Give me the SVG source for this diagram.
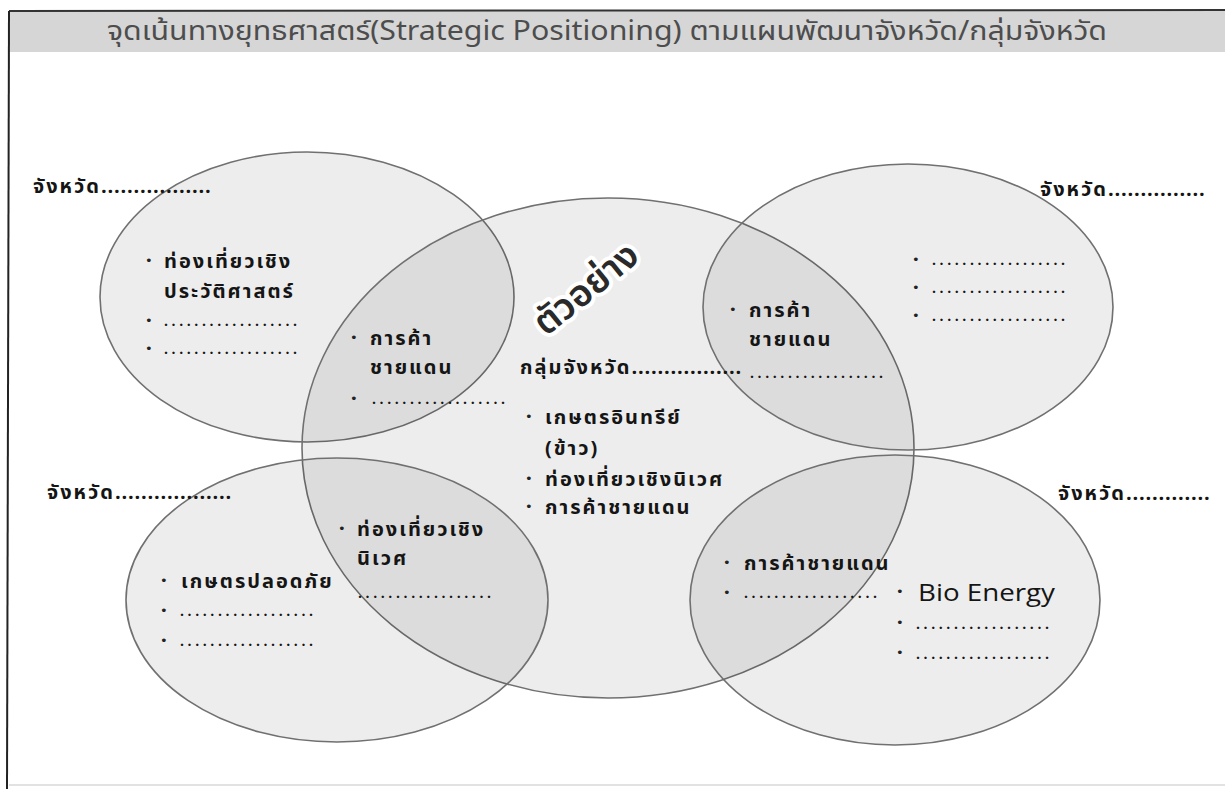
<svg xmlns="http://www.w3.org/2000/svg" width="1225" height="789" viewBox="0 0 1225 789">
<style>
.e{fill:#000;fill-opacity:.072;stroke:#707070;stroke-width:1.6}
.t{font-family:"Noto Sans Thai","Tahoma","DejaVu Sans",sans-serif;font-size:20px;fill:#151515;font-weight:700;letter-spacing:2px}
.b{font-family:"DejaVu Sans",sans-serif;font-size:13px;fill:#222}
.d{font-family:"Noto Sans Thai","DejaVu Sans",sans-serif;font-size:14px;font-weight:700;fill:#151515;letter-spacing:3.6px}
.ld{letter-spacing:0.8px}
.lat{font-family:"Open Sans","Noto Sans",sans-serif;font-size:24px;fill:#151515}
</style>
<g id="frame">
<rect x="9" y="11" width="1216" height="41" fill="#d6d6d6"/>
<line x1="9" y1="11" x2="1225" y2="10" stroke="#333" stroke-width="2"/>
<line x1="9" y1="11" x2="7" y2="789" stroke="#222" stroke-width="2"/>
<line x1="9" y1="785" x2="1225" y2="785" stroke="#e2e2e2" stroke-width="2"/>
<text x="107" y="40" textLength="1000" lengthAdjust="spacingAndGlyphs" font-family="Noto Sans Thai, Tahoma, DejaVu Sans, sans-serif" font-size="27" fill="#4d4d4d">จุดเน้นทางยุทธศาสตร์(Strategic Positioning) ตามแผนพัฒนาจังหวัด/กลุ่มจังหวัด</text>
</g>
<g id="shapes">
<ellipse id="e-tl" class="e" cx="307" cy="297" rx="207" ry="145"/>
<ellipse id="e-c" class="e" cx="608" cy="448" rx="306" ry="250"/>
<ellipse id="e-tr" class="e" cx="908" cy="307" rx="205" ry="143"/>
<ellipse id="e-bl" class="e" cx="337" cy="600" rx="211" ry="142"/>
<ellipse id="e-br" class="e" cx="895" cy="600" rx="205" ry="145"/>
</g>
<g id="node-tl">
<text class="t" x="33" y="193">จังหวัด<tspan class="ld">.................</tspan></text>
<text class="b" x="145" y="265">•</text><text class="t" x="164" y="268">ท่องเที่ยวเชิง</text>
<text class="t" x="164" y="298">ประวัติศาสตร์</text>
<text class="b" x="145" y="325">•</text><text class="d" x="164" y="326">..................</text>
<text class="b" x="145" y="353">•</text><text class="d" x="164" y="354">..................</text>
</g>
<g id="node-tl-c">
<text class="b" x="350" y="342">•</text><text class="t" x="370" y="345">การค้า</text>
<text class="t" x="370" y="374">ชายแดน</text>
<text class="b" x="350" y="403">•</text><text class="d" x="372" y="404">..................</text>
</g>
<g id="node-c">
<text transform="translate(546,337) rotate(-39)" font-family="Noto Sans Thai, Tahoma, DejaVu Sans, sans-serif" font-size="37" font-weight="600" fill="#2a2a2a" stroke="#fff" stroke-width="8" stroke-linejoin="round" paint-order="stroke">ตัวอย่าง</text>
<text class="t" x="520" y="374">กลุ่มจังหวัด<tspan class="ld">.................</tspan></text>
<text class="b" x="525" y="421">•</text><text class="t" x="545" y="424">เกษตรอินทรีย์</text>
<text class="t" x="545" y="455">(ข้าว)</text>
<text class="b" x="525" y="483">•</text><text class="t" x="545" y="486">ท่องเที่ยวเชิงนิเวศ</text>
<text class="b" x="525" y="511">•</text><text class="t" x="545" y="514">การค้าชายแดน</text>
</g>
<g id="node-tr-c">
<text class="b" x="729" y="314">•</text><text class="t" x="749" y="317">การค้า</text>
<text class="t" x="749" y="346">ชายแดน</text>
<text class="d" x="750" y="378">..................</text>
</g>
<g id="node-tr">
<text class="t" x="1040" y="196">จังหวัด<tspan class="ld">...............</tspan></text>
<text class="b" x="912" y="264">•</text><text class="d" x="932" y="265">..................</text>
<text class="b" x="912" y="292">•</text><text class="d" x="932" y="293">..................</text>
<text class="b" x="912" y="320">•</text><text class="d" x="932" y="321">..................</text>
</g>
<g id="node-bl">
<text class="t" x="47" y="499">จังหวัด<tspan class="ld">..................</tspan></text>
<text class="b" x="160" y="585">•</text><text class="t" x="181" y="588">เกษตรปลอดภัย</text>
<text class="b" x="160" y="615">•</text><text class="d" x="180" y="616">..................</text>
<text class="b" x="160" y="645">•</text><text class="d" x="180" y="646">..................</text>
</g>
<g id="node-bl-c">
<text class="b" x="338" y="533">•</text><text class="t" x="357" y="536">ท่องเที่ยวเชิง</text>
<text class="t" x="357" y="565">นิเวศ</text>
<text class="d" x="358" y="598">..................</text>
</g>
<g id="node-br-c">
<text class="b" x="723" y="567">•</text><text class="t" x="744" y="570">การค้าชายแดน</text>
<text class="b" x="723" y="597">•</text><text class="d" x="744" y="598">..................</text>
</g>
<g id="node-br">
<text class="t" x="1058" y="500">จังหวัด<tspan class="ld">.............</tspan></text>
<text class="b" x="896" y="596">•</text><text class="lat" x="918" y="601" textLength="137" lengthAdjust="spacingAndGlyphs">Bio Energy</text>
<text class="b" x="896" y="627">•</text><text class="d" x="916" y="629">..................</text>
<text class="b" x="896" y="657">•</text><text class="d" x="916" y="659">..................</text>
</g>
</svg>
